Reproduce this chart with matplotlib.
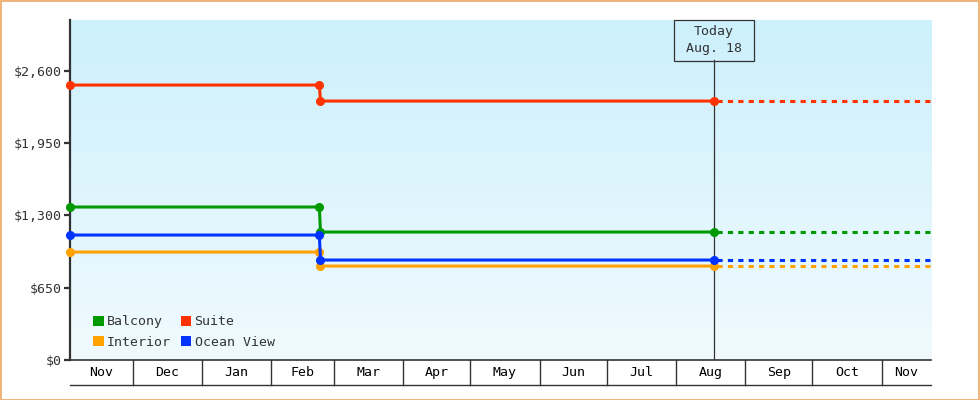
import matplotlib
matplotlib.use("Agg")
import matplotlib.pyplot as plt
import matplotlib.dates as mdates
from matplotlib.patches import Rectangle, Patch
from matplotlib.transforms import blended_transform_factory
import numpy as np
from datetime import datetime, timedelta

# ---------------- data ----------------
series_names = ["Balcony", "Suite", "Interior", "Ocean View"]
series_colors = ["#009900", "#FF3300", "#FFA200", "#0033FF"]
price_before = [1376, 2473, 971, 1124]
price_after = [1151, 2329, 845, 899]

start_date = datetime(2022, 11, 3)
change_old = datetime(2023, 2, 22, 12)
change_new = datetime(2023, 2, 23)
today_date = datetime(2023, 8, 18)
end_date = datetime(2023, 11, 23)

y_ticks = [0, 650, 1300, 1950, 2600]
y_max = 3058
month_labels = ["Nov", "Dec", "Jan", "Feb", "Mar", "Apr", "May", "Jun",
                "Jul", "Aug", "Sep", "Oct", "Nov"]
month_starts = [datetime(2022, 11, 1), datetime(2022, 12, 1), datetime(2023, 1, 1),
                datetime(2023, 2, 1), datetime(2023, 3, 1), datetime(2023, 4, 1),
                datetime(2023, 5, 1), datetime(2023, 6, 1), datetime(2023, 7, 1),
                datetime(2023, 8, 1), datetime(2023, 9, 1), datetime(2023, 10, 1),
                datetime(2023, 11, 1), datetime(2023, 12, 1)]
today_text = "Today\nAug. 18"

# ---------------- figure ----------------
FONT = "DejaVu Sans Mono"
plt.rcParams["font.family"] = [FONT, "DejaVu Sans"]
plt.rcParams["font.size"] = 9.5
DARK = "#333333"

W, H = 980, 400
fig = plt.figure(figsize=(W / 100, H / 100), dpi=100)
fig.patch.set_facecolor("white")
fig.patches.append(Rectangle((0.5 / W, 0.5 / H), 1 - 1.5 / W, 1 - 1.5 / H,
                             transform=fig.transFigure, fill=False,
                             edgecolor="#EBA862", linewidth=1.2))

L, R, T, B = 70, 931, 20, 360
ax = fig.add_axes([L / W, 1 - B / H, (R - L) / W, (B - T) / H])
ax.set_facecolor("none")

# gradient background
grad = np.linspace(0, 1, 256).reshape(-1, 1)
top = np.array([204, 240, 252]) / 255
bot = np.array([240, 250, 254]) / 255
img = top[None, None, :] * (1 - grad[:, :, None]) + bot[None, None, :] * grad[:, :, None]
ax.imshow(img, extent=[0, 1, 0, 1], transform=ax.transAxes, aspect="auto",
          zorder=0, interpolation="bilinear")

x0 = mdates.date2num(start_date)
x1 = mdates.date2num(end_date)
ax.set_xlim(x0, x1)
ax.set_ylim(0, y_max)

# today line
ax.plot([today_date, today_date], [0, 0.882], color=DARK, lw=0.9,
        transform=blended_transform_factory(ax.transData, ax.transAxes), zorder=2)

# series
for name, col, v0, v1 in zip(series_names, series_colors, price_before, price_after):
    xs = [start_date, change_old, change_new, today_date]
    ys = [v0, v0, v1, v1]
    ax.plot(xs, ys, color=col, lw=2.2, marker="o", ms=5.5, zorder=4,
            solid_joinstyle="miter", clip_on=False)
    ax.plot([today_date + timedelta(days=1.3), end_date], [v1, v1], color=col, lw=2.2,
            dashes=(1.7, 1.7), dash_capstyle="butt", zorder=3)

# y axis
for s in ["top", "right"]:
    ax.spines[s].set_visible(False)
ax.spines["left"].set_color(DARK)
ax.spines["left"].set_linewidth(1.6)
ax.spines["bottom"].set_color(DARK)
ax.spines["bottom"].set_linewidth(1.2)
ax.set_yticks(y_ticks)
ax.set_yticklabels(["$" + format(v, ",") for v in y_ticks])
ax.tick_params(axis="y", length=4, width=1.6, color=DARK, labelcolor=DARK, pad=2,
               labelsize=9.5)
ax.set_xticks([])

# month boxes below the axis
bt = blended_transform_factory(ax.transData, ax.transAxes)
box_h = 25 / (B - T)
ax.plot([0, 1], [-box_h, -box_h], transform=ax.transAxes, color=DARK, lw=1.0,
        clip_on=False)
for d in month_starts:
    xd = mdates.date2num(d)
    if x0 < xd < x1:
        ax.plot([xd, xd], [0, -box_h], transform=bt, color=DARK, lw=1.0, clip_on=False)
for i, lab in enumerate(month_labels):
    a = max(mdates.date2num(month_starts[i]), x0)
    b = min(mdates.date2num(month_starts[i + 1]), x1)
    ax.text((a + b) / 2, -box_h / 2, lab, transform=bt, ha="center", va="center",
            color="black", fontsize=9.5)

# today box
tx = (mdates.date2num(today_date) - x0) / (x1 - x0)
bw = 80 / (R - L)
bh = 40.5 / (B - T)
ax.add_patch(Rectangle((tx - bw / 2, 1 - bh), bw, bh, transform=ax.transAxes,
                       facecolor="none", edgecolor=DARK, lw=0.9, zorder=5,
                       clip_on=False))
ax.text(tx, 1 - bh / 2, today_text, transform=ax.transAxes, ha="center",
        va="center", color=DARK, fontsize=9.5, linespacing=1.35, zorder=6)

# legend
handles = [Patch(facecolor=c, edgecolor="none") for c in series_colors]
order = [0, 2, 1, 3]
leg = ax.legend([handles[i] for i in order], [series_names[i] for i in order],
                ncol=2, loc="lower left", bbox_to_anchor=(0.016, 0.006),
                frameon=False, handlelength=0.8, handleheight=0.8,
                handletextpad=0.25, columnspacing=0.75, labelspacing=0.55,
                fontsize=9.5, borderpad=0.2)
for t in leg.get_texts():
    t.set_color(DARK)

fig.savefig("out.png", dpi=100)
